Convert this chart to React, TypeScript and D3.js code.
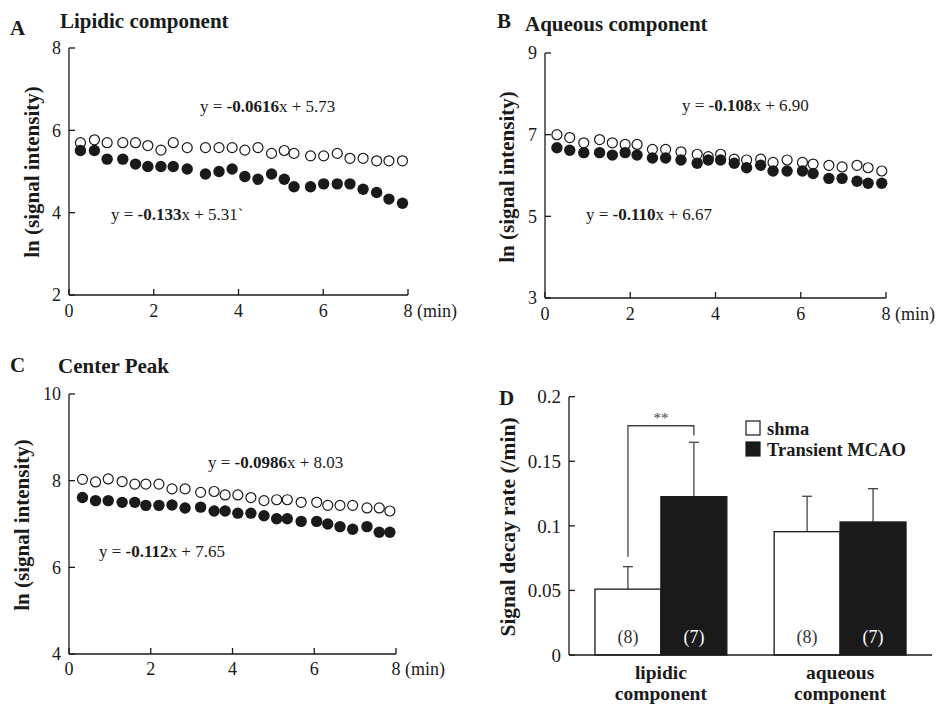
import React from 'react';
import * as d3 from 'd3';

// ---- DATA ----
const timesA = [0.27, 0.6, 0.9, 1.27, 1.57, 1.86, 2.17, 2.46, 2.79, 3.22, 3.54, 3.85, 4.15, 4.46, 4.78, 5.08, 5.31, 5.7, 6.01, 6.33, 6.63, 6.94, 7.26, 7.55, 7.87];
const shamA = [5.70, 5.77, 5.70, 5.70, 5.70, 5.63, 5.52, 5.70, 5.58, 5.58, 5.58, 5.58, 5.52, 5.58, 5.44, 5.51, 5.44, 5.38, 5.38, 5.44, 5.32, 5.32, 5.26, 5.26, 5.26];
const mcaoA = [5.51, 5.51, 5.30, 5.30, 5.18, 5.12, 5.12, 5.12, 5.06, 4.94, 5.00, 5.06, 4.88, 4.81, 4.94, 4.81, 4.63, 4.63, 4.70, 4.70, 4.70, 4.57, 4.49, 4.33, 4.23];

const timesB = [0.28, 0.58, 0.91, 1.28, 1.58, 1.88, 2.16, 2.52, 2.83, 3.19, 3.57, 3.83, 4.12, 4.44, 4.73, 5.06, 5.35, 5.68, 6.04, 6.29, 6.66, 6.97, 7.32, 7.58, 7.9];
const shamB = [7.00, 6.93, 6.80, 6.88, 6.80, 6.76, 6.76, 6.64, 6.64, 6.58, 6.52, 6.46, 6.52, 6.40, 6.38, 6.40, 6.32, 6.38, 6.32, 6.28, 6.25, 6.21, 6.25, 6.19, 6.11];
const mcaoB = [6.68, 6.62, 6.56, 6.56, 6.50, 6.56, 6.50, 6.43, 6.43, 6.38, 6.30, 6.38, 6.38, 6.30, 6.19, 6.25, 6.11, 6.11, 6.11, 6.05, 5.93, 5.93, 5.86, 5.81, 5.81];

const timesC = [0.33, 0.65, 0.96, 1.3, 1.61, 1.88, 2.2, 2.52, 2.84, 3.22, 3.55, 3.82, 4.13, 4.45, 4.77, 5.08, 5.34, 5.68, 6.06, 6.33, 6.63, 6.94, 7.29, 7.59, 7.85];
const shamC = [8.03, 7.97, 8.04, 7.98, 7.92, 7.92, 7.92, 7.81, 7.81, 7.73, 7.75, 7.67, 7.67, 7.61, 7.54, 7.56, 7.56, 7.50, 7.50, 7.43, 7.43, 7.43, 7.37, 7.37, 7.30];
const mcaoC = [7.61, 7.54, 7.54, 7.50, 7.50, 7.43, 7.43, 7.44, 7.37, 7.39, 7.30, 7.30, 7.25, 7.25, 7.19, 7.12, 7.12, 7.06, 7.06, 7.00, 6.94, 6.88, 6.94, 6.81, 6.81];

const xTicks = [0, 2, 4, 6, 8];
const yTicksA = [2, 4, 6, 8];
const yTicksB = [3, 5, 7, 9];
const yTicksC = [4, 6, 8, 10];

// bar chart (D)
const categories = ['lipidic', 'aqueous'];
const groups = ['shma', 'Transient MCAO'];
const shamRate = [0.051, 0.0955];
const mcaoRate = [0.1226, 0.103];
const shamSd = [0.0174, 0.0274];
const mcaoSd = [0.0421, 0.0258];
const shamN = [8, 8];
const mcaoN = [7, 7];
const rateTicks = [0, 0.05, 0.1, 0.15, 0.2];

const FONT = '"Liberation Serif", "Times New Roman", serif';
const INK = '#1a1a1a';

function Equation({ x, y, slope, icpt }) {
  return (
    <text x={x} y={y} fontSize={17} fill={INK}>
      y = <tspan fontWeight="bold">{slope}</tspan>x + {icpt}
    </text>
  );
}

function ScatterPanel(p) {
  const x = d3.scaleLinear().domain([0, 8]).range(p.xr);
  const y = d3.scaleLinear().domain(p.yd).range(p.yr);
  const [x0, x1] = p.xr;
  const [yb, yt] = p.yr;
  return (
    <g>
      <text x={p.letter[0]} y={p.letter[1]} fontSize={21} fontWeight="bold" fill={INK}>{p.name}</text>
      <text x={p.title[0]} y={p.title[1]} fontSize={21} fontWeight="bold" fill={INK}>{p.titleText}</text>
      <text transform={`translate(${p.ylab[0]},${p.ylab[1]}) rotate(-90)`} textAnchor="middle" dy="0.35em"
        fontSize={21} fontWeight="bold" fill={INK}>ln (signal intensity)</text>
      {/* axes */}
      <line x1={x0} x2={x0} y1={yt} y2={yb} stroke={INK} strokeWidth={1.3} />
      <line x1={x0} x2={x1} y1={yb} y2={yb} stroke={INK} strokeWidth={1.3} />
      {p.yTicks.map(t => (
        <g key={'y' + t}>
          <line x1={x0} x2={x0 + 6} y1={y(t)} y2={y(t)} stroke={INK} strokeWidth={1.3} />
          <text x={x0 - 8} y={y(t)} dy="0.35em" textAnchor="end" fontSize={18} fill={INK}>{t}</text>
        </g>
      ))}
      {xTicks.map(t => (
        <g key={'x' + t}>
          <line x1={x(t)} x2={x(t)} y1={yb} y2={yb - 6} stroke={INK} strokeWidth={1.3} />
          <text x={x(t)} y={p.xlabY} textAnchor="middle" fontSize={18} fill={INK}>{t}</text>
        </g>
      ))}
      <text x={x(8) + 9} y={p.xlabY} fontSize={18} fill={INK}>(min)</text>
      {/* sham: open circles, tMCAO: filled */}
      {p.times.map((t, i) => (
        <circle key={'s' + i} cx={x(t)} cy={y(p.sham[i])} r={5} fill="white" stroke={INK} strokeWidth={1.2} />
      ))}
      {p.times.map((t, i) => (
        <circle key={'m' + i} cx={x(t)} cy={y(p.mcao[i])} r={5.7} fill={INK} />
      ))}
      <Equation x={p.eq1[0]} y={p.eq1[1]} slope={p.eq1[2]} icpt={p.eq1[3]} />
      <Equation x={p.eq2[0]} y={p.eq2[1]} slope={p.eq2[2]} icpt={p.eq2[3]} />
    </g>
  );
}

function BarPanel() {
  const x = d3.scaleBand().domain(categories).range([569, 932]).paddingInner(0.264).paddingOuter(0.145);
  const xi = d3.scaleBand().domain(groups).range([0, x.bandwidth()]);
  const y = d3.scaleLinear().domain([0, 0.2]).range([655, 396.7]);
  const bw = xi.bandwidth();
  const series = [
    { g: groups[0], v: shamRate, sd: shamSd, n: shamN, fill: 'white', txt: '#333' },
    { g: groups[1], v: mcaoRate, sd: mcaoSd, n: mcaoN, fill: INK, txt: 'white' },
  ];
  const cx = (c, g) => x(c) + xi(g) + bw / 2;
  const bl = cx(categories[0], groups[0]);
  const br = cx(categories[0], groups[1]);
  return (
    <g>
      <text x={499} y={405} fontSize={21} fontWeight="bold" fill={INK}>D</text>
      <text transform="translate(507,527) rotate(-90)" textAnchor="middle" dy="0.35em" fontSize={21.5} fontWeight="bold" fill={INK}>
        Signal decay rate (/min)
      </text>
      {rateTicks.map(t => (
        <g key={t}>
          <line x1={569} x2={575} y1={y(t)} y2={y(t)} stroke={INK} strokeWidth={1.3} />
          <text x={561} y={y(t)} dy="0.35em" textAnchor="end" fontSize={19} fill={INK}>{String(t)}</text>
        </g>
      ))}
      {series.map(s => categories.map((c, i) => {
        const bx = x(c) + xi(s.g);
        const mid = bx + bw / 2;
        const top = y(s.v[i] + s.sd[i]);
        return (
          <g key={s.g + c}>
            <line x1={mid} x2={mid} y1={y(s.v[i])} y2={top} stroke="#444" strokeWidth={1.3} />
            <line x1={mid - 5} x2={mid + 5} y1={top} y2={top} stroke="#444" strokeWidth={1.3} />
            <rect x={bx} y={y(s.v[i])} width={bw} height={y(0) - y(s.v[i])} fill={s.fill} stroke={INK} strokeWidth={1.3} />
            <text x={mid} y={y(0) - 18} dy="0.35em" textAnchor="middle" fontSize={18} fill={s.txt}>({s.n[i]})</text>
          </g>
        );
      }))}
      <line x1={569} x2={569} y1={y(0.2)} y2={y(0)} stroke={INK} strokeWidth={1.3} />
      <line x1={569} x2={932} y1={y(0)} y2={y(0)} stroke={INK} strokeWidth={1.3} />
      {/* significance bracket */}
      <path d={`M${bl},${y(0.076)}V${y(0.1775)}H${br}V${y(0.17)}`} fill="none" stroke="#444" strokeWidth={1.3} />
      <text x={(bl + br) / 2} y={y(0.1775) - 3} textAnchor="middle" fontSize={15} fill="#444">**</text>
      {categories.map(c => (
        <text key={c} x={x(c) + x.bandwidth() / 2} textAnchor="middle" fontSize={19.5} fontWeight="bold" fill={INK}>
          <tspan x={x(c) + x.bandwidth() / 2} y={679}>{c}</tspan>
          <tspan x={x(c) + x.bandwidth() / 2} y={700}>component</tspan>
        </text>
      ))}
      {/* legend */}
      {series.map((s, i) => (
        <g key={s.g}>
          <rect x={746} y={421 + i * 21} width={14} height={14} fill={s.fill} stroke={INK} strokeWidth={1.2} />
          <text x={767} y={435 + i * 21} fontSize={18.5} fontWeight="bold" fill={INK}>{s.g}</text>
        </g>
      ))}
    </g>
  );
}

export default function App() {
  return (
    <svg width={938} height={704} style={{ position: 'absolute', left: 0, top: 0, fontFamily: FONT }}>
      <rect width={938} height={704} fill="white" />
      <ScatterPanel name="A" titleText="Lipidic component" letter={[10, 35]} title={[60, 28]} ylab={[32, 172]}
        xr={[69, 408]} yd={[2, 8]} yr={[295, 48]} yTicks={yTicksA} xlabY={317}
        times={timesA} sham={shamA} mcao={mcaoA}
        eq1={[200, 112, '-0.0616', '5.73']} eq2={[111, 220, '-0.133', '5.31`']} />
      <ScatterPanel name="B" titleText="Aqueous component" letter={[497, 28]} title={[525, 31]} ylab={[507, 177]}
        xr={[545, 886]} yd={[3, 9]} yr={[298, 53]} yTicks={yTicksB} xlabY={320}
        times={timesB} sham={shamB} mcao={mcaoB}
        eq1={[682, 111, '-0.108', '6.90']} eq2={[586, 220, '-0.110', '6.67']} />
      <ScatterPanel name="C" titleText="Center Peak" letter={[10, 372]} title={[58, 373]} ylab={[22, 525]}
        xr={[69, 396]} yd={[4, 10]} yr={[654, 394]} yTicks={yTicksC} xlabY={675}
        times={timesC} sham={shamC} mcao={mcaoC}
        eq1={[208, 468, '-0.0986', '8.03']} eq2={[99, 557, '-0.112', '7.65']} />
      <BarPanel />
    </svg>
  );
}
